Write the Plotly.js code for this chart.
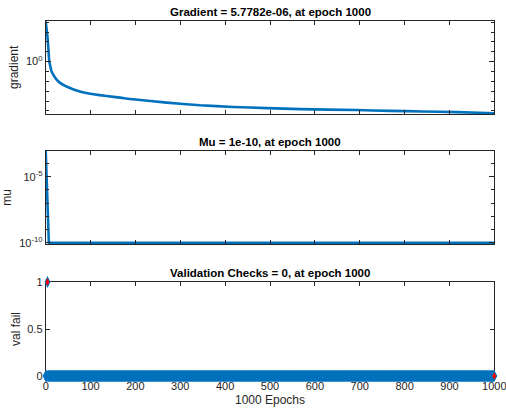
<!DOCTYPE html>
<html>
<head>
<meta charset="utf-8">
<script src="https://cdn.plot.ly/plotly-3.0.1.min.js"></script>
<style>html,body{margin:0;padding:0;background:#fff}#plot{width:506px;height:412px}</style>
</head>
<body>
<div id="plot"></div>
<script>
// ---- data ----
const gradEpochs = [0, 2, 4, 6, 8, 10, 13, 17, 22, 32, 62, 99, 136, 166, 195, 270, 344, 418, 493, 567, 693, 767, 841, 916, 1000];
const gradValues = [1.26e4, 2.0e3, 316, 20, 1.0, 0.4, 0.1, 0.047, 0.02, 6.9e-3, 1.5e-3, 5.5e-4, 3.2e-4, 2.2e-4, 1.5e-4, 6.9e-5, 3.7e-5, 2.5e-5, 1.9e-5, 1.5e-5, 1.2e-5, 1.0e-5, 8.7e-6, 7.4e-6, 5.7782e-6];

const muEpochs = [0, 1, 2, 3, 4, 5, 6, 7, 1000];
const muValues = [1e-3, 1e-4, 1e-5, 1e-6, 1e-7, 1e-8, 1e-9, 1e-10, 1e-10];

const lastEpoch = 1000;              // val fail is 0 at every epoch 0..1000
const valFailSpikeEpochs = [4];      // epochs where val fail is not 0
const valFailSpikeValues = [1];
const valCurrentEpochs = [4, 1000];  // red markers
const valCurrentValues = [1, 0];

const titles = ['Gradient = 5.7782e-06, at epoch 1000', 'Mu = 1e-10, at epoch 1000', 'Validation Checks = 0, at epoch 1000'];
const xTicks = [0, 100, 200, 300, 400, 500, 600, 700, 800, 900, 1000];

// ---- build val fail series ----
const valEpochs = [], valValues = [];
for (let e = 0; e <= lastEpoch; e++) {
  valEpochs.push(e);
  const k = valFailSpikeEpochs.indexOf(e);
  valValues.push(k >= 0 ? valFailSpikeValues[k] : 0);
}

const blue = '#0072BD';
const axCol = '#262626';
const font = 'Liberation Sans, Arial, Helvetica, sans-serif';

const traces = [
  {x: gradEpochs, y: gradValues, xaxis: 'x', yaxis: 'y', mode: 'lines', line: {color: blue, width: 2.6, shape: 'spline', smoothing: 0.6}, cliponaxis: false},
  {x: muEpochs, y: muValues, xaxis: 'x2', yaxis: 'y2', mode: 'lines', line: {color: blue, width: 2.6}, cliponaxis: false},
  {x: valEpochs, y: valValues, xaxis: 'x3', yaxis: 'y3', mode: 'markers', marker: {symbol: 'diamond-tall', size: 8.5, color: blue, line: {color: blue, width: 0}}, cliponaxis: false},
  {x: valCurrentEpochs, y: valCurrentValues, xaxis: 'x3', yaxis: 'y3', mode: 'markers', marker: {symbol: 'diamond-tall', size: 5.5, color: '#FF0000', line: {width: 0}}, cliponaxis: false}
];

const xd = [45.7 / 506, 494.3 / 506];
function yd(top, bot) { return [1 - bot / 412, 1 - top / 412]; }

function xax(anchor, labels, extra) {
  return Object.assign({
    domain: xd, anchor: anchor, range: [0, 1000], tickvals: xTicks, ticktext: xTicks.map(String),
    showticklabels: labels, ticks: 'inside', ticklen: 4, tickcolor: axCol, tickwidth: 1,
    showline: true, linecolor: axCol, linewidth: 1, mirror: 'ticks', ticklabeloverflow: 'allow',
    showgrid: false, zeroline: false, tickfont: {family: font, size: 11, color: axCol}
  }, extra || {});
}
function yax(anchor, dom, extra) {
  return Object.assign({
    domain: dom, anchor: anchor, ticks: 'inside', ticklen: 4, tickcolor: axCol, tickwidth: 1,
    showline: true, linecolor: axCol, linewidth: 1, mirror: 'ticks', ticklabeloverflow: 'allow',
    showgrid: false, zeroline: false, tickfont: {family: font, size: 11, color: axCol}
  }, extra);
}

const decades = (a, b, skip) => { const v = []; for (let p = a; p <= b; p++) if (skip.indexOf(p) < 0) v.push(Math.pow(10, p)); return v; };

const layout = {
  width: 506, height: 412, margin: {l: 0, r: 0, t: 0, b: 0},
  paper_bgcolor: '#fff', plot_bgcolor: '#fff', showlegend: false,
  font: {family: font, color: axCol},
  xaxis: xax('y', false),
  xaxis2: xax('y2', false),
  xaxis3: xax('y3', true, {layer: 'below traces', title: {text: '1000 Epochs', font: {family: font, size: 12, color: axCol}, standoff: 4}}),
  yaxis: yax('x', yd(20.7, 114), {type: 'log', range: [-5.32, 4.16],
    tickvals: [1], ticktext: ['10<sup>0</sup>'], ticklen: 5,
    minor: {tickvals: decades(-5, 4, [0]), ticks: 'inside', ticklen: 3, tickcolor: axCol},
    title: {text: 'gradient', font: {family: font, size: 12, color: axCol}, standoff: 4}}),
  yaxis2: yax('x2', yd(150.7, 244), {type: 'log', range: [-10.1, -3.02],
    tickvals: [1e-10, 1e-5], ticktext: ['10<sup>-10</sup>', '10<sup>-5</sup>'], ticklen: 5,
    minor: {tickvals: decades(-9, -3, [-5]), ticks: 'inside', ticklen: 3, tickcolor: axCol},
    title: {text: 'mu', font: {family: font, size: 12, color: axCol}, standoff: 4}}),
  yaxis3: yax('x3', yd(282, 376), {range: [0, 1], tickvals: [0, 0.5, 1], ticktext: ['0', '0.5', '1'], layer: 'below traces',
    title: {text: 'val fail', font: {family: font, size: 12, color: axCol}, standoff: 4}}),
  annotations: [
    [titles[0], 11.5], [titles[1], 142], [titles[2], 272.5]
  ].map(([t, y]) => ({text: '<b>' + t + '</b>', x: (xd[0] + xd[1]) / 2, xref: 'paper', y: 1 - y / 412, yref: 'paper',
    xanchor: 'center', yanchor: 'middle', showarrow: false, font: {family: font, size: 11.5, color: '#000'}}))
};

Plotly.newPlot('plot', traces, layout, {staticPlot: true, displayModeBar: false});
</script>
</body>
</html>
